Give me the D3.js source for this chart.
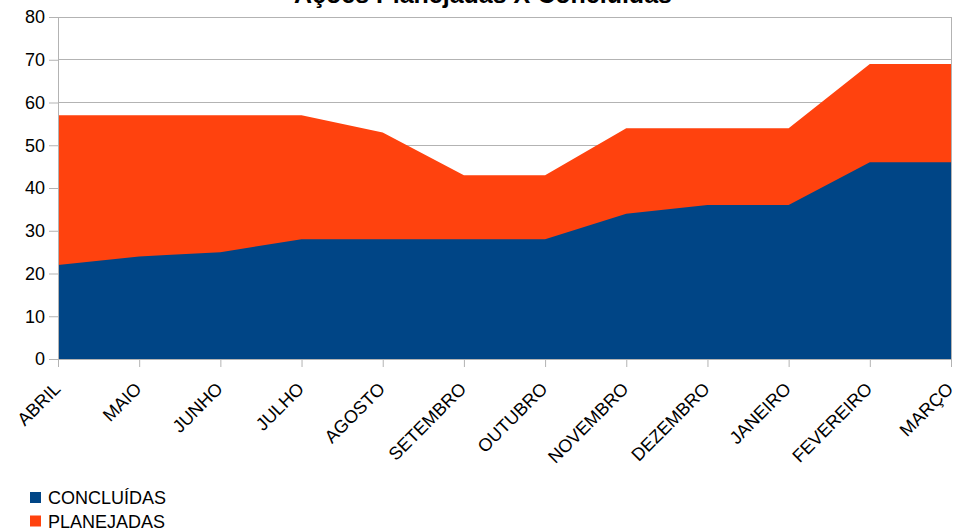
<!DOCTYPE html>
<html>
<head>
<meta charset="utf-8">
<script src="https://cdn.jsdelivr.net/npm/d3@7"></script>
<style>
body { margin: 0; background: #fff; }
text { font-family: "Liberation Sans", Arial, sans-serif; fill: #000; }
</style>
</head>
<body>
<div id="canvas"></div>
<script>
const months = ["ABRIL", "MAIO", "JUNHO", "JULHO", "AGOSTO", "SETEMBRO", "OUTUBRO", "NOVEMBRO", "DEZEMBRO", "JANEIRO", "FEVEREIRO", "MARÇO"];
const concluidas = [22, 24, 25, 28, 28, 28, 28, 34, 36, 36, 46, 46];
const planejadas = [57, 57, 57, 57, 53, 43, 43, 54, 54, 54, 69, 69];
const yTicks = [0, 10, 20, 30, 40, 50, 60, 70, 80];
const seriesNames = ["CONCLUÍDAS", "PLANEJADAS"];
const colors = ["#004586", "#ff420e"];

const W = 956, H = 529;
const margin = {left: 58, right: 5, top: 17, bottom: 170};

const svg = d3.select("#canvas").append("svg")
	.attr("width", W).attr("height", H);

const x = d3.scalePoint().domain(months).range([margin.left, W - margin.right]);
const y = d3.scaleLinear().domain([0, 80]).range([H - margin.bottom, margin.top]);

// grid
svg.append("g").selectAll("line").data(yTicks).join("line")
	.attr("x1", margin.left).attr("x2", W - margin.right)
	.attr("y1", d => y(d)).attr("y2", d => y(d))
	.attr("stroke", "#b3b3b3").attr("stroke-width", 1)
	.attr("shape-rendering", "crispEdges");
svg.append("line")
	.attr("x1", W - margin.right).attr("x2", W - margin.right)
	.attr("y1", y(80)).attr("y2", y(0))
	.attr("stroke", "#b3b3b3").attr("shape-rendering", "crispEdges");

// areas (planned drawn behind concluded)
const area = vals => d3.area()
	.x((d, i) => x(months[i]))
	.y0(y(0))
	.y1(d => y(d))(vals);

svg.append("path").attr("d", area(planejadas)).attr("fill", colors[1]);
svg.append("path").attr("d", area(concluidas)).attr("fill", colors[0]);

// axes
const yAxis = svg.append("g")
	.attr("transform", `translate(${margin.left},0)`)
	.call(d3.axisLeft(y).tickValues(yTicks).tickSize(9).tickPadding(4));
yAxis.select(".domain").attr("stroke", "#b3b3b3");
yAxis.selectAll(".tick line").attr("stroke", "#b3b3b3");
yAxis.selectAll("text").style("font-size", "18px").attr("fill", "#000");

const xAxis = svg.append("g")
	.attr("transform", `translate(0,${y(0)})`)
	.call(d3.axisBottom(x).tickSize(8).tickSizeOuter(0));
xAxis.select(".domain").attr("stroke", "#b3b3b3");
xAxis.selectAll(".tick line").attr("stroke", "#b3b3b3");
xAxis.selectAll("text")
	.style("font-size", "18px").attr("fill", "#000")
	.attr("text-anchor", "end")
	.attr("x", 0).attr("y", 0).attr("dy", 0)
	.attr("transform", "translate(3,31) rotate(-45)");

// title (partly cut off at top)
svg.append("text")
	.attr("x", 483).attr("y", 3)
	.attr("text-anchor", "middle")
	.style("font-size", "25px").style("font-weight", "bold")
	.text("Ações Planejadas X  Concluídas");

// legend
const legend = svg.append("g").attr("transform", "translate(30,492)");
seriesNames.forEach((name, i) => {
	const g = legend.append("g").attr("transform", `translate(0,${i * 23.5})`);
	g.append("rect").attr("width", 11).attr("height", 11).attr("fill", colors[i]);
	g.append("text").attr("x", 18).attr("y", 12).style("font-size", "18px").text(name);
});
</script>
</body>
</html>
